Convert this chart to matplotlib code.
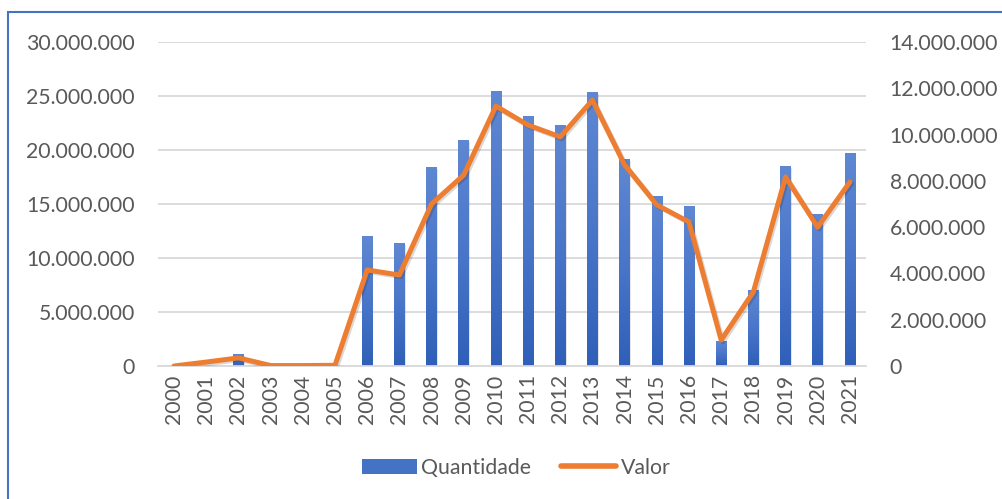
import matplotlib
matplotlib.use("Agg")
import matplotlib.pyplot as plt
import numpy as np
from matplotlib.patches import Rectangle, Patch
from matplotlib.lines import Line2D
from matplotlib.ticker import FuncFormatter, MultipleLocator
from matplotlib.colors import LinearSegmentedColormap
import matplotlib.patheffects as pe

years = [str(y) for y in range(2000, 2022)]
quantidade = [0, 0, 1100000, 0, 0, 0, 12040000, 11390000, 18430000, 20930000,
              25460000, 23150000, 22310000, 25370000, 19170000, 15740000,
              14810000, 2300000, 7040000, 18520000, 14070000, 19720000]
valor = [0, 170000, 350000, 20000, 20000, 30000, 4150000, 3930000, 7000000,
         8250000, 11230000, 10410000, 9900000, 11490000, 8690000, 6960000,
         6220000, 1120000, 3200000, 8170000, 6000000, 7950000]

FONT = "Lato"
TXT = "#595959"
FS = 15.3

fig = plt.figure(figsize=(10.03, 4.99), dpi=100)
fig.patch.set_facecolor("white")

# chart frame (blue border, cut by image edges)
fig.patches.append(Rectangle((8 / 1003, -0.1), 1.2, (499 - 12) / 499 + 0.1,
                             transform=fig.transFigure, fill=False,
                             edgecolor="#4472C4", linewidth=1.5))

ax = fig.add_axes([158 / 1003, 1 - 366 / 499, (866 - 158) / 1003, (366 - 42) / 499])
ax2 = ax.twinx()

x = np.arange(len(years))
bw = 0.33

grad = np.linspace(0, 1, 256).reshape(-1, 1)
cmap = LinearSegmentedColormap.from_list("g", ["#2F5FB8", "#4A76CA", "#5F88D2"])
bars = ax.bar(x, quantidade, width=bw, color="#4472C4", zorder=2,
              label="Quantidade")
for b in bars:
    h = b.get_height()
    if h <= 0:
        continue
    x0 = b.get_x()
    ax.add_patch(Rectangle((x0 + 0.03, 0), bw, h - 150000, color="#000000",
                           alpha=0.10, zorder=1.5, linewidth=0))
    im = ax.imshow(grad, cmap=cmap, aspect="auto", origin="lower",
                   extent=(x0, x0 + bw, 0, h), zorder=2.1)
    im.set_clip_path(b)

ax.set_xlim(-0.5, len(years) - 0.5)
ax.set_ylim(0, 30000000)
ax2.set_ylim(0, 14000000)

ax2.plot(x, valor, color="#ED7D31", linewidth=3.6, zorder=3,
         solid_joinstyle="round", solid_capstyle="round", label="Valor",
         path_effects=[pe.SimpleLineShadow(offset=(1.2, -1.2), alpha=0.15, shadow_color="black"),
                       pe.Normal()])

ax.yaxis.set_major_locator(MultipleLocator(5000000))
ax2.yaxis.set_major_locator(MultipleLocator(2000000))
fmt = FuncFormatter(lambda v, p: f"{int(round(v)):,}".replace(",", "."))
ax.yaxis.set_major_formatter(fmt)
ax2.yaxis.set_major_formatter(fmt)

ax.grid(axis="y", color="#D9D9D9", linewidth=1.3, zorder=0)
ax.set_axisbelow(True)
for a in (ax, ax2):
    for s in a.spines.values():
        s.set_visible(False)
ax.spines["bottom"].set_visible(True)
ax.spines["bottom"].set_color("#D9D9D9")
ax.spines["bottom"].set_linewidth(1.3)

ax.set_xticks(x)
ax.set_xticklabels(years, rotation=90)
ax.tick_params(axis="x", length=0, pad=6, labelsize=FS, labelcolor=TXT)
ax.tick_params(axis="y", length=0, pad=16.5, labelsize=FS, labelcolor=TXT)
ax2.tick_params(axis="y", length=0, pad=17, labelsize=FS, labelcolor=TXT)
for lab in ax.get_xticklabels() + ax.get_yticklabels() + ax2.get_yticklabels():
    lab.set_fontfamily(FONT)

ax.set_zorder(1)
ax2.set_zorder(2)
ax.patch.set_visible(False)

handles = [Patch(facecolor="#4472C4", edgecolor="none"),
           Line2D([0], [0], color="#ED7D31", linewidth=4, solid_capstyle="round")]
fig.legend(handles, ["Quantidade", "Valor"], loc="center",
           bbox_to_anchor=(516 / 1003, 1 - 468 / 499), ncol=2, frameon=False,
           prop={"family": FONT, "size": FS}, labelcolor=TXT,
           handlelength=2.6, handleheight=0.75, handletextpad=0.2, columnspacing=1.4)

fig.savefig("out.png", dpi=100, facecolor="white")
